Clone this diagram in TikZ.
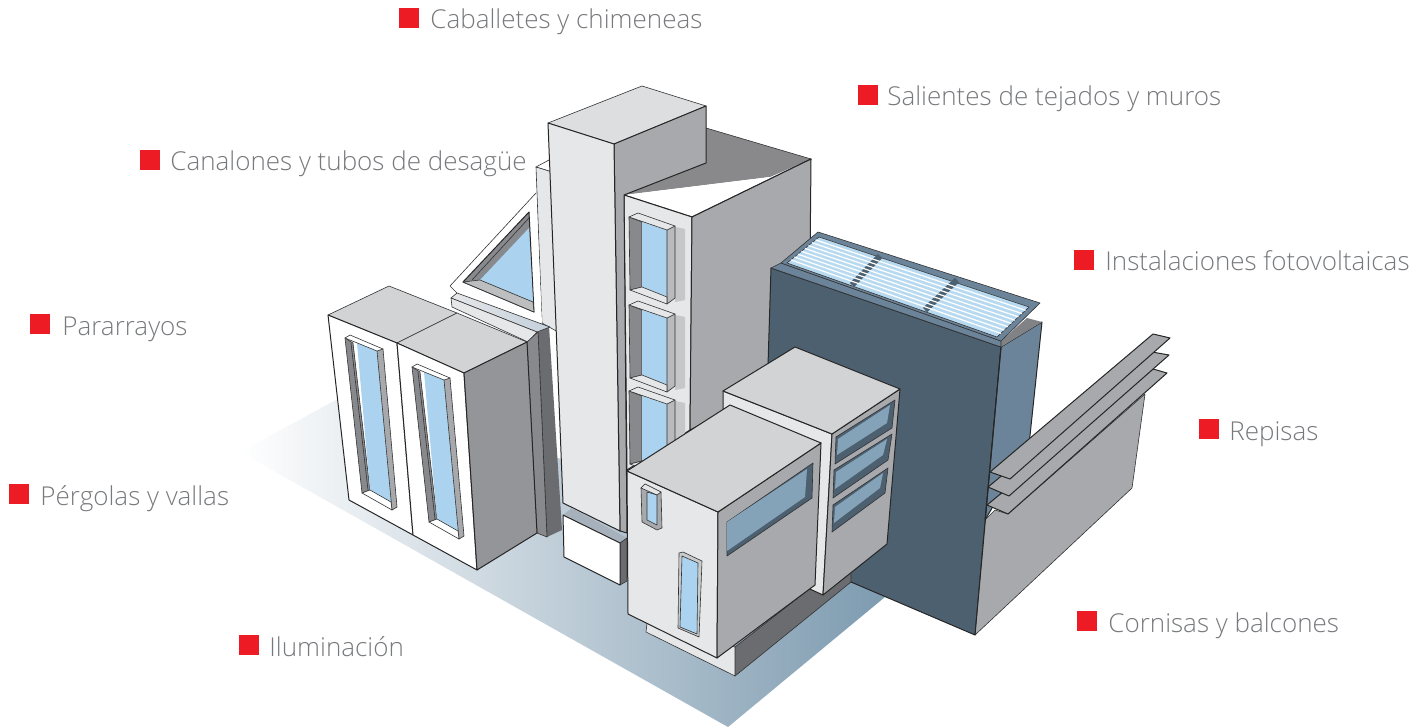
\documentclass[tikz,border=0pt]{standalone}
\usepackage{fontspec}
\setmainfont{Open Sans Light}
\usepackage{tikz}
\usetikzlibrary{positioning,calc}
\definecolor{redmark}{HTML}{ED1C24}
\definecolor{labelgray}{HTML}{77797C}
\definecolor{facelight}{HTML}{E6E7E9}
\definecolor{facetop}{HTML}{D1D3D4}
\definecolor{faceside}{HTML}{A7A9AC}
\definecolor{facemid}{HTML}{88898D}
\definecolor{facedark}{HTML}{6B6C6F}
\definecolor{glass}{HTML}{ABD3EF}
\definecolor{glassdark}{HTML}{84A3B9}
\definecolor{walldark}{HTML}{4D6070}
\definecolor{wallside}{HTML}{6C8499}
\definecolor{ledge}{HTML}{C3D0DC}
\begin{document}
\begin{tikzpicture}[x=1pt,y=-1pt,
    face/.style={draw=black!85,line width=1pt,line join=round},
    thin/.style={draw=black!80,line width=.6pt,line join=round},
    redbox/.style={fill=redmark,minimum size=20pt,inner sep=0pt},
    itemlabel/.style={text=labelgray,font=\fontsize{26}{30}\selectfont,inner sep=0pt,text height=22pt,text depth=0pt}]
  \useasboundingbox (0,0) rectangle (1424,727);

  %ground
  \shade[left color=white,right color=glassdark!95!black] (240,452) -- (345,395) -- (700,500) -- (885,597) -- (728,727) -- cycle;

  %wing
  \fill[facedark!80!white] (624,195) -- (706,128) -- (811,159) -- (770,177) -- cycle;
  \fill[white] (624,195) -- (770,177) -- (692,217) -- cycle;
  \draw[face] (624,195) -- (692,217) -- (811,159);
  \draw[thin] (706,128) -- (811,159);
  \draw[face,fill=facelight] (624,195) -- (692,217) -- (690,430) -- (627,470) -- cycle;
  \draw[face,fill=faceside] (692,217) -- (811,159) -- (809,370) -- (690,430) -- cycle;

  %wing windows
  \foreach \dy in {0,88,174} {
    \begin{scope}[yshift=-\dy pt]
      \fill[faceside!65!white] (675,227) -- (685,229) -- (685,300) -- (675,302) -- cycle;
      \draw[thin,fill=facemid] (629,217) -- (642,222) -- (642,287) -- (630,290) -- cycle;
      \fill[glass] (642,222) -- (667,230) -- (667,297) -- (642,287) -- cycle;
      \draw[thin,fill=faceside!80!white] (667,230) -- (675,226) -- (675,298) -- (667,304) -- cycle;
      \draw[thin,fill=facelight] (629,217) -- (638,213) -- (675,226) -- (667,230) -- cycle;
      \draw[thin,fill=facelight] (630,290) -- (642,287) -- (667,297) -- (667,304) -- cycle;
    \end{scope}
  }

  %back slab
  \draw[thin,fill=white] (536,167) -- (549,160) -- (552,172) -- cycle;
  \draw[thin,fill=facelight] (536,167) -- (552,172) -- (558,332) -- (542,323) -- cycle;

  %triangle window
  \fill[white] (536,193) -- (450,286) -- (542,323) -- cycle;
  \draw[thin] (536,193) -- (450,286) -- (457,293);
  \draw[face,fill=facemid] (463,282) -- (529,212) -- (534,312) -- cycle;
  \fill[glass] (480,280) -- (529,228) -- (533,302) -- cycle;
  \draw[thin] (472,280) -- (529,218);
  \draw[thin,fill=facetop!90!black] (463,282) -- (480,280) -- (533,302) -- (534,312) -- cycle;

  %ledge
  \fill[facedark] (538,332) -- (549,326) -- (562,530) -- (547,537) -- cycle;
  \draw[thin] (547,537) -- (538,332);
  \draw[thin,left color=facelight,right color=ledge] (451,298) -- (457,293) -- (550,327) -- (537,332) -- cycle;
  \draw[thin,fill=facelight] (451,298) -- (537,332) -- (528,342) -- (452,307) -- cycle;

  %left blocks
  \draw[thin,fill=facemid] (527,342) -- (538,332) -- (547,537) -- (537,533) -- cycle;
  \draw[thin,fill=facetop] (328,315) -- (389,286) -- (457,313) -- (397,343) -- cycle;
  \draw[thin,fill=facetop] (397,343) -- (457,313) -- (527,342) -- (464,373) -- cycle;
  \draw[face,fill=white] (328,315) -- (397,343) -- (413,535) -- (349,500) -- cycle;
  \draw[face,fill=white] (397,343) -- (464,373) -- (477,570) -- (413,535) -- cycle;
  \draw[face,fill=facemid!90!white] (464,373) -- (527,342) -- (537,533) -- (477,570) -- cycle;

  %left windows
  \foreach \dx/\dy in {0/0,67/29} {
    \begin{scope}[xshift=\dx pt,yshift=-\dy pt]
      \draw[thin,fill=facemid] (345,338) -- (353,343) -- (370,490) -- (362,493) -- cycle;
      \draw[thin] (351,343) -- (368,490);
      \fill[glass] (357,343) -- (377,351) -- (391,502) -- (370,490) -- cycle;
      \draw[thin,fill=faceside] (377,351) -- (383,349) -- (397,507) -- (392,510) -- cycle;
      \draw[thin,fill=white] (345,338) -- (350,335) -- (383,349) -- (377,351) -- cycle;
      \draw[thin,fill=white] (362,493) -- (370,490) -- (391,502) -- (392,510) -- cycle;
    \end{scope}
  }

  %tower
  \draw[thin,fill=facelight!96!black] (548,123) -- (642,86) -- (706,106) -- (614,144) -- cycle;
  \draw[face,fill=faceside] (614,144) -- (706,106) -- (706,163) -- (624,195) -- (627,533) -- (620,531) -- cycle;
  \draw[face,fill=facelight] (548,123) -- (614,144) -- (620,531) -- (563,503) -- cycle;

  %tower base
  \fill[ledge!85!black] (563,515) -- (572,508) -- (627,538) -- (620,543) -- cycle;
  \draw[thin,fill=facedark] (620,543) -- (627,538) -- (627,581) -- (620,585) -- cycle;
  \draw[face,fill=white] (563,515) -- (620,543) -- (620,585) -- (564,557) -- cycle;

  %blue wall
  \draw[face,fill=walldark] (771,268) -- (1001,347) -- (975,635) -- (851,582) -- (766,430) -- cycle;
  \draw[face,fill=wallside] (1001,347) -- (1042,322) -- (1029,445) -- (985,520) -- cycle;
  \fill[facedark!85!white] (1001,341) -- (1027,318) -- (1042,322) -- (1001,347) -- cycle;
  \draw[thin,fill=wallside] (771,268) -- (781,263) -- (1001,341) -- (1001,347) -- cycle;

  %panel
  \draw[thin,fill=wallside] (781,263) -- (818,232) -- (1040,303) -- (1001,341) -- cycle;
  \coordinate (pa) at (819,237);
  \coordinate (pb) at (787,263);
  \coordinate (pc) at (997,337);
  \coordinate (pd) at (1029,307);
  \draw[thin,fill=glass!85!white] (pa) -- (pb) -- (pc) -- (pd) -- cycle;
  \draw[walldark,line width=6pt] (880,256) -- (852,285);
  \draw[walldark,line width=6pt] (957,280) -- (925,310);
  \foreach \t in {.11,.22,.33,.44,.55,.66,.77,.88} {
    \draw[white,line width=1.2pt] ($(pa)!\t!(pb)$) -- ($(pd)!\t!(pc)$);
  }

  %shelves
  \draw[thin,fill=faceside] (985,520) -- (995,510) -- (1008,514) -- (1145,394) -- (1132,488) -- (975,635) -- cycle;
  \draw[face,fill=faceside] (987,505) -- (1153,369) -- (1167,373) -- (1008,514) -- cycle;
  \draw[face,fill=faceside] (988,487) -- (1152,352) -- (1169,355) -- (1009,496) -- cycle;
  \draw[face,fill=faceside] (990,472) -- (1153,334) -- (1170,338) -- (1010,479) -- cycle;
  \draw[face] (1001,347) -- (975,635);

  %rear block
  \draw[thin,fill=facedark] (735,647) -- (817,583) -- (851,565) -- (851,582) -- (735,676) -- cycle;
  \draw[face,fill=facelight] (723,391) -- (832,434) -- (823,595) -- (790,580) -- (723,440) -- cycle;
  \draw[face,fill=faceside] (832,434) -- (900,389) -- (887,544) -- (823,595) -- cycle;
  \draw[face,fill=facetop] (723,391) -- (795,347) -- (900,389) -- (832,434) -- cycle;
  \foreach \ax/\ay/\bx/\by/\cx/\cy/\dx/\dy in {
    836/437/895/400/892/428/835/464,
    834/470/892/434/888/460/833/498,
    833/505/888/468/885/493/832/532} {
    \draw[thin,fill=walldark] (\ax,\ay) -- (\bx,\by) -- (\cx,\cy) -- (\dx,\dy) -- cycle;
    \fill[glassdark] (\ax+2,\ay+2) -- (\bx-5,\by+5) -- (\cx-5,\cy-5) -- (\dx+2,\dy-9) -- cycle;
  }

  %front block
  \draw[thin,fill=facelight] (647,623) -- (735,647) -- (735,676) -- (646,632) -- cycle;
  \draw[face,fill=facelight] (627,471) -- (718,512) -- (717,658) -- (628,614) -- cycle;
  \draw[face,fill=faceside] (718,512) -- (821,443) -- (815,585) -- (717,658) -- cycle;
  \draw[face,fill=facetop] (627,471) -- (730,405) -- (821,443) -- (718,512) -- cycle;
  \draw[thin,fill=walldark] (727,522) -- (813,463) -- (812,498) -- (727,556) -- cycle;
  \fill[glassdark] (727,522) -- (807,469) -- (805,497) -- (727,551) -- cycle;

  %front windows
  \draw[thin,fill=faceside] (641,488) -- (645,484) -- (661,492) -- (662,528) -- (657,530) -- (642,522) -- cycle;
  \draw[thin,fill=facelight] (641,488) -- (645,484) -- (661,492) -- (657,495) -- cycle;
  \draw[thin,fill=glass] (647,492) -- (657,495) -- (657,525) -- (647,520) -- cycle;
  \draw[thin,fill=faceside!60!white] (679,553) -- (683,552) -- (702,561) -- (699,637) -- (678,628) -- cycle;
  \draw[thin,fill=glass] (682,556) -- (698,563) -- (697,634) -- (680,627) -- cycle;

  %labels
  \node[redbox] (ridge) at (409,18) {};
  \node[itemlabel,right=11pt of ridge] (ridgetext) {Caballetes y chimeneas};
  \node[redbox] (eaves) at (868,95) {};
  \node[itemlabel,right=9pt of eaves] (eavestext) {Salientes de tejados y muros};
  \node[redbox] (gutter) at (150,160) {};
  \node[itemlabel,right=10pt of gutter] (guttertext) {Canalones y tubos de desagüe};
  \node[redbox] (solar) at (1084,260) {};
  \node[itemlabel,right=11pt of solar] (solartext) {Instalaciones fotovoltaicas};
  \node[redbox] (rod) at (40,324) {};
  \node[itemlabel,right=12pt of rod] (rodtext) {Pararrayos};
  \node[redbox] (sill) at (1209,429) {};
  \node[itemlabel,right=10pt of sill] (silltext) {Repisas};
  \node[redbox] (fence) at (19,494) {};
  \node[itemlabel,right=11pt of fence] (fencetext) {Pérgolas y vallas};
  \node[redbox] (cornice) at (1087,621) {};
  \node[itemlabel,right=11pt of cornice] (cornicetext) {Cornisas y balcones};
  \node[redbox] (light) at (249,645) {};
  \node[itemlabel,right=10pt of light] (lighttext) {Iluminación};
\end{tikzpicture}
\end{document}
